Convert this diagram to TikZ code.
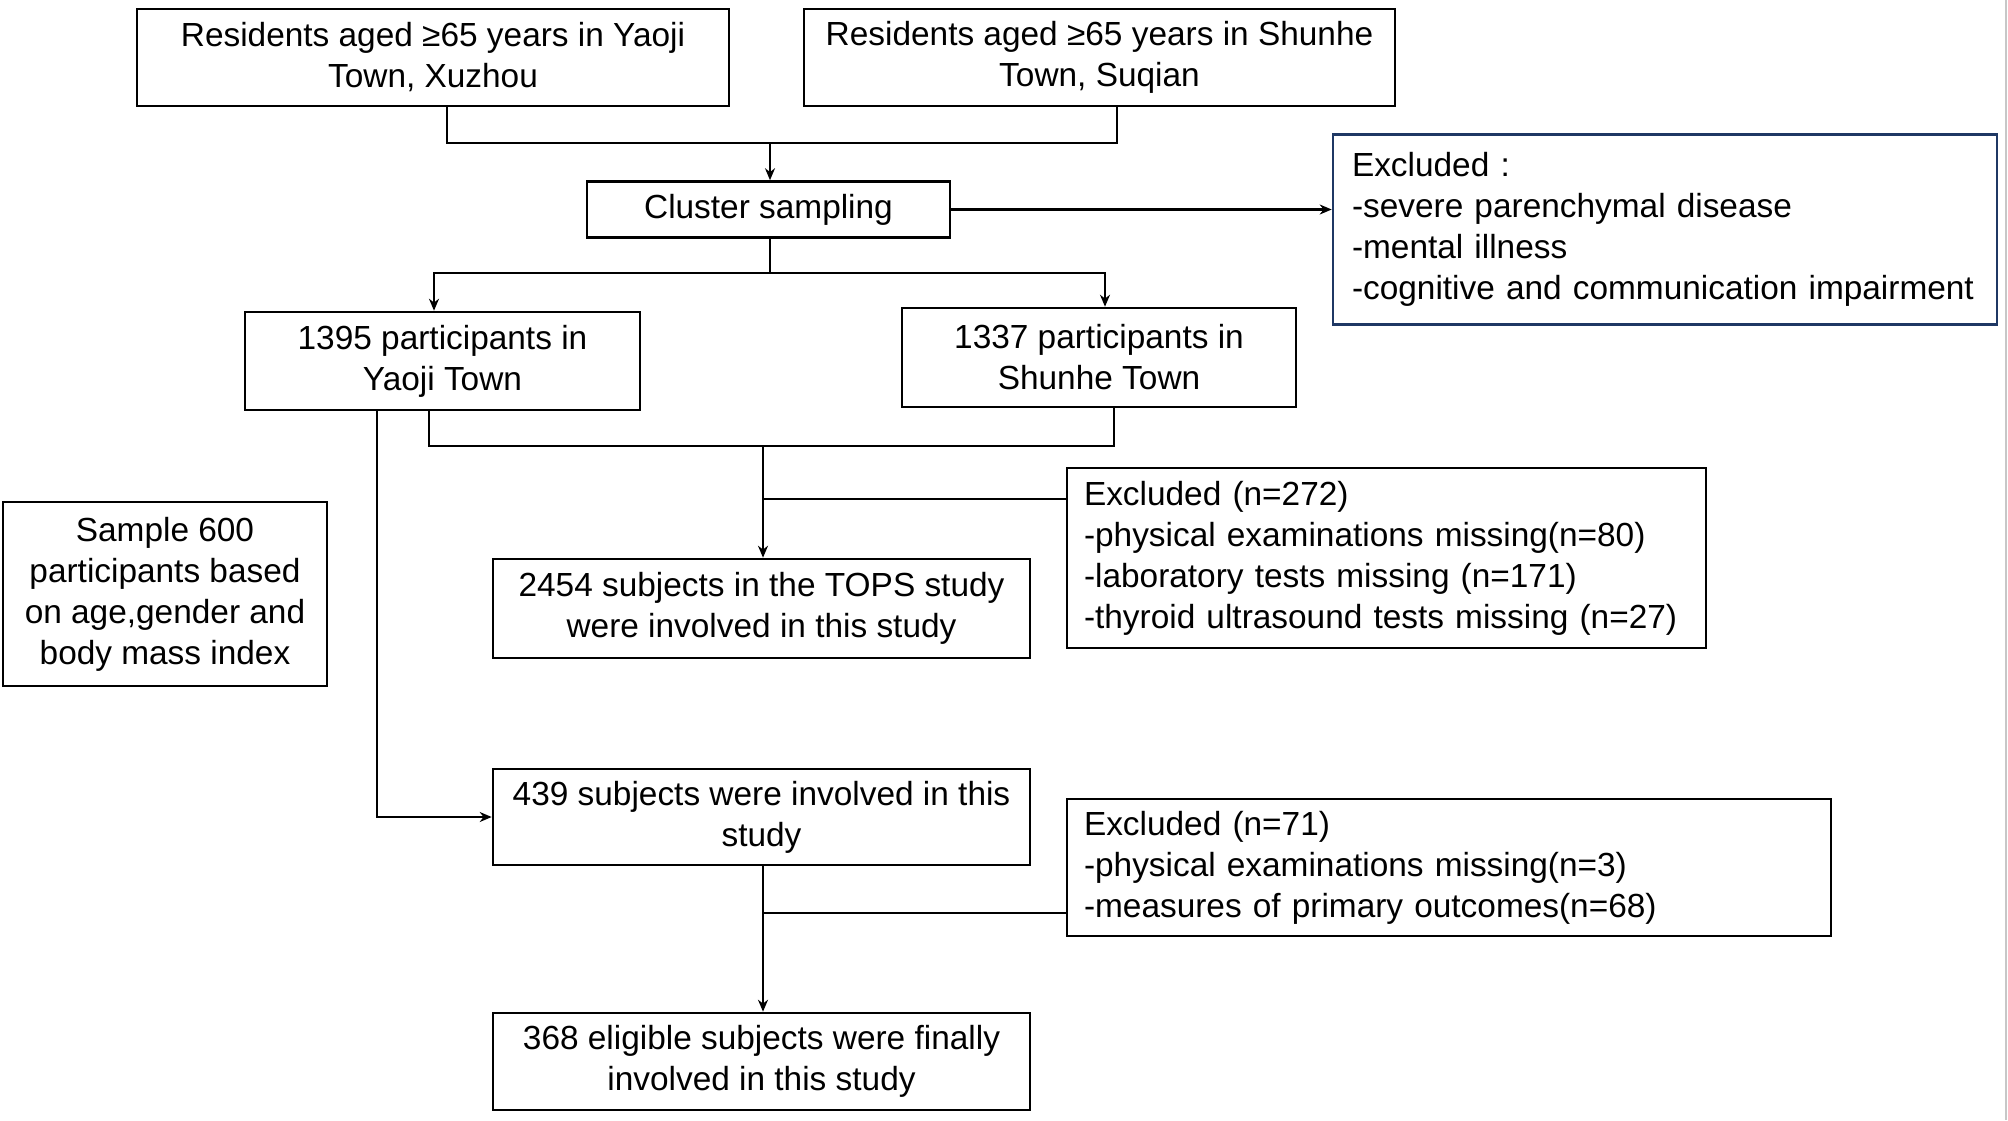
\documentclass[tikz,border=0pt]{standalone}
\usepackage{fontspec}
\setmainfont{Liberation Sans}
\usetikzlibrary{arrows.meta}
\definecolor{navy}{RGB}{31,56,100}
\tikzset{
  box/.style={draw=black, line width=1.3pt, inner sep=0pt, align=center,
    font=\fontsize{16.7}{20.5}\selectfont},
  line/.style={draw=black, line width=1.1pt},
  arr/.style={line, -{Stealth[length=6pt,width=5pt]}},
}
\begin{document}
\begin{tikzpicture}[x=0.5pt,y=-0.5pt]
\useasboundingbox (0,0) rectangle (2008,1120);
\fill[white] (0,0) rectangle (2008,1120);
\draw[black!22, line width=1.2pt] (2006,0) -- (2006,1120);

% top boxes
\node[box, minimum width=296pt, minimum height=48.5pt] (A) at (433,57.5)
  {Residents aged ≥65 years in Yaoji\\Town, Xuzhou};
\node[box, minimum width=295.5pt, minimum height=48.5pt] (B) at (1099.5,57.5)
  {Residents aged ≥65 years in Shunhe\\Town, Suqian};
\node[box, minimum width=181.5pt, minimum height=28pt] (Cl) at (768.5,209.5)
  {Cluster sampling};
\node[box, draw=navy, minimum width=332pt, minimum height=95pt, text width=313pt, align=left] (Ex1) at (1665,229.5)
  {Excluded :\\-severe parenchymal disease\\-mental illness\\-cognitive and communication impairment};

\node[box, minimum width=197.5pt, minimum height=49pt] (C) at (442.5,361)
  {1395 participants in\\Yaoji Town};
\node[box, minimum width=197pt, minimum height=49.5pt] (D) at (1099,357.5)
  {1337 participants in\\Shunhe Town};

\node[box, minimum width=268.5pt, minimum height=49.5pt] (E) at (761.5,608.5)
  {2454 subjects in the TOPS study\\were involved in this study};
\node[box, minimum width=319.5pt, minimum height=90pt, text width=302.5pt, align=left] (Ex2) at (1386.5,558)
  {Excluded (n=272)\\-physical examinations missing(n=80)\\-laboratory tests missing (n=171)\\-thyroid ultrasound tests missing (n=27)};

\node[box, minimum width=162pt, minimum height=92pt] (S) at (165,594)
  {Sample 600\\participants based\\on age,gender and\\body mass index};

\node[box, minimum width=268.5pt, minimum height=48pt] (G) at (761.5,817)
  {439 subjects were involved in this\\study};
\node[box, minimum width=382pt, minimum height=68.5pt, text width=365pt, align=left] (Ex3) at (1449,867.5)
  {Excluded (n=71)\\-physical examinations missing(n=3)\\-measures of primary outcomes(n=68)};

\node[box, minimum width=268.5pt, minimum height=48.5pt] (H) at (761.5,1061.5)
  {368 eligible subjects were finally\\involved in this study};

% junction coordinates
\coordinate (jA) at (447,143);
\coordinate (jB) at (1117,143);
\coordinate (j1) at (770,143);
\coordinate (j2) at (770,273);
\coordinate (jC) at (434,273);
\coordinate (jD) at (1105,273);
\coordinate (jC2) at (429,446);
\coordinate (jD2) at (1114,446);
\coordinate (j3) at (763,446);
\coordinate (j4) at (763,499);
\coordinate (jC3) at (377,817);
\coordinate (j5) at (763,913);

% connectors
\draw[line] (A.south -| jA) -- (jA) -- (jB) -- (B.south -| jB);
\draw[arr] (j1) -- (Cl.north -| j1);
\draw[arr] (Cl.east) -- (Ex1.west |- Cl.east);
\draw[line] (Cl.south -| j2) -- (j2);
\draw[line, {Stealth[length=6pt,width=5pt]}-{Stealth[length=6pt,width=5pt]}]
  (C.north -| jC) -- (jC) -- (jD) -- (D.north -| jD);
\draw[line] (C.south -| jC2) -- (jC2) -- (jD2) -- (D.south -| jD2);
\draw[arr] (j3) -- (E.north -| j3);
\draw[line] (j4) -- (Ex2.west |- j4);
\draw[arr] (C.south -| jC3) -- (jC3) -- (G.west);
\draw[arr] (G.south -| j5) -- (H.north -| j5);
\draw[line] (j5) -- (Ex3.west |- j5);
\end{tikzpicture}
\end{document}
